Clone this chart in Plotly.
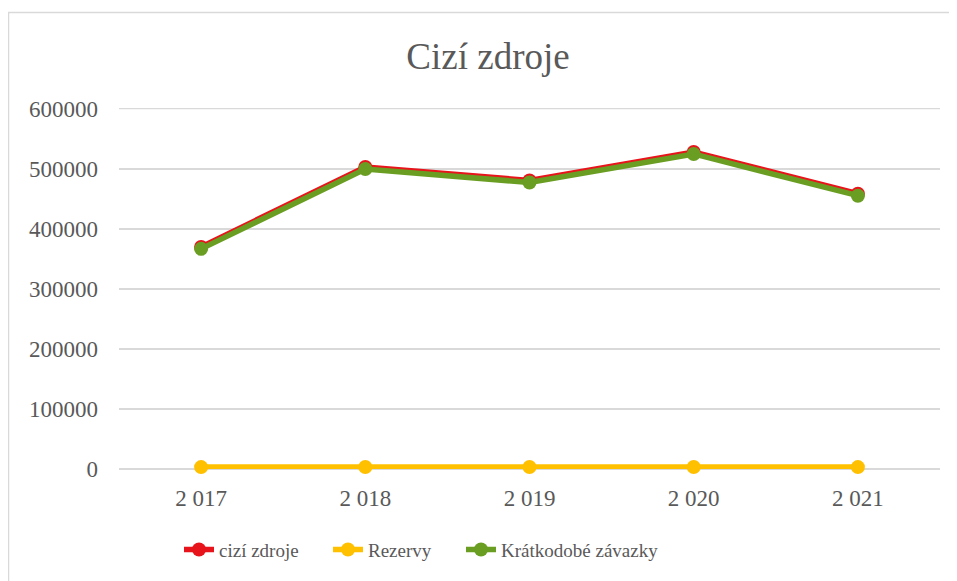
import plotly.graph_objects as go

years = ["2 017", "2 018", "2 019", "2 020", "2 021"]
cizi_zdroje = [369700, 502800, 480400, 527800, 458200]
rezervy = [3200, 3300, 3400, 3300, 3200]
kratkodobe_zavazky = [366500, 499500, 477000, 524500, 455000]
y_ticks = [0, 100000, 200000, 300000, 400000, 500000, 600000]

RED = "#E8141B"
YELLOW = "#FFC000"
GREEN = "#6A9E23"
TXT = "#595959"
GRID = "#D9D9D9"
FONT = "Liberation Serif, Times New Roman, serif"

OFF = 8  # page body margin
W, H = 957 - OFF, 581 - OFF
# plot area in page pixels
L, R, T, B = 119, 940, 109, 471
YMAX = 601000
T_adj = B - (B - T) * YMAX / 600000


def fx(x):  # page px -> paper x
    return (x - L) / (R - L)


def fy(y):  # page px -> paper y
    return (B - y) / (B - T_adj)


series = [("cizí zdroje", cizi_zdroje, RED, "legend", 179),
          ("Rezervy", rezervy, YELLOW, "legend2", 328),
          ("Krátkodobé závazky", kratkodobe_zavazky, GREEN, "legend3", 461)]

fig = go.Figure()
legends = {}
for name, vals, col, lg, lx in series:
    fig.add_trace(go.Scatter(
        x=years, y=vals, name=name, mode="lines+markers",
        line=dict(color=col, width=5.5),
        marker=dict(color=col, size=14),
        cliponaxis=False, legend=lg,
    ))
    legends[lg] = dict(orientation="h", x=fx(lx), xanchor="left",
                       y=fy(552), yanchor="middle", bgcolor="rgba(0,0,0,0)",
                       font=dict(size=19, family=FONT, color=TXT),
                       itemwidth=30)

fig.update_layout(
    width=W, height=H,
    margin=dict(l=L - OFF, r=W - (R - OFF), t=T_adj - OFF, b=H - (B - OFF)),
    paper_bgcolor="white", plot_bgcolor="white",
    font=dict(family=FONT, color=TXT, size=23),
    title=dict(text="Cizí zdroje", x=(488 - OFF) / W, xanchor="center",
               y=1 - (56 - OFF) / H, yanchor="middle", yref="container",
               font=dict(size=37, family=FONT, color=TXT)),
    showlegend=True,
    xaxis=dict(type="category", range=[-0.5, 4.5], showgrid=False,
               zeroline=False, showline=False, ticks="",
               tickfont=dict(size=23, family=FONT), ticklabelstandoff=13),
    yaxis=dict(range=[0, YMAX], tickvals=y_ticks, tickformat="d",
               showgrid=True, gridcolor=GRID, gridwidth=1.5,
               zeroline=True, zerolinecolor=GRID, zerolinewidth=1.5,
               showline=False, ticks="", tickfont=dict(size=23, family=FONT),
               ticklabelstandoff=20),
    shapes=[dict(type="rect", xref="paper", yref="paper",
                 x0=fx(8.5), x1=fx(966), y0=fy(590), y1=fy(12.5),
                 line=dict(color=GRID, width=1.5), layer="below"),
            dict(type="line", xref="paper", yref="y", x0=0, x1=1,
                 y0=y_ticks[-1], y1=y_ticks[-1],
                 line=dict(color=GRID, width=1.5), layer="below")],
    **legends,
)

fig.write_html("out.html")
